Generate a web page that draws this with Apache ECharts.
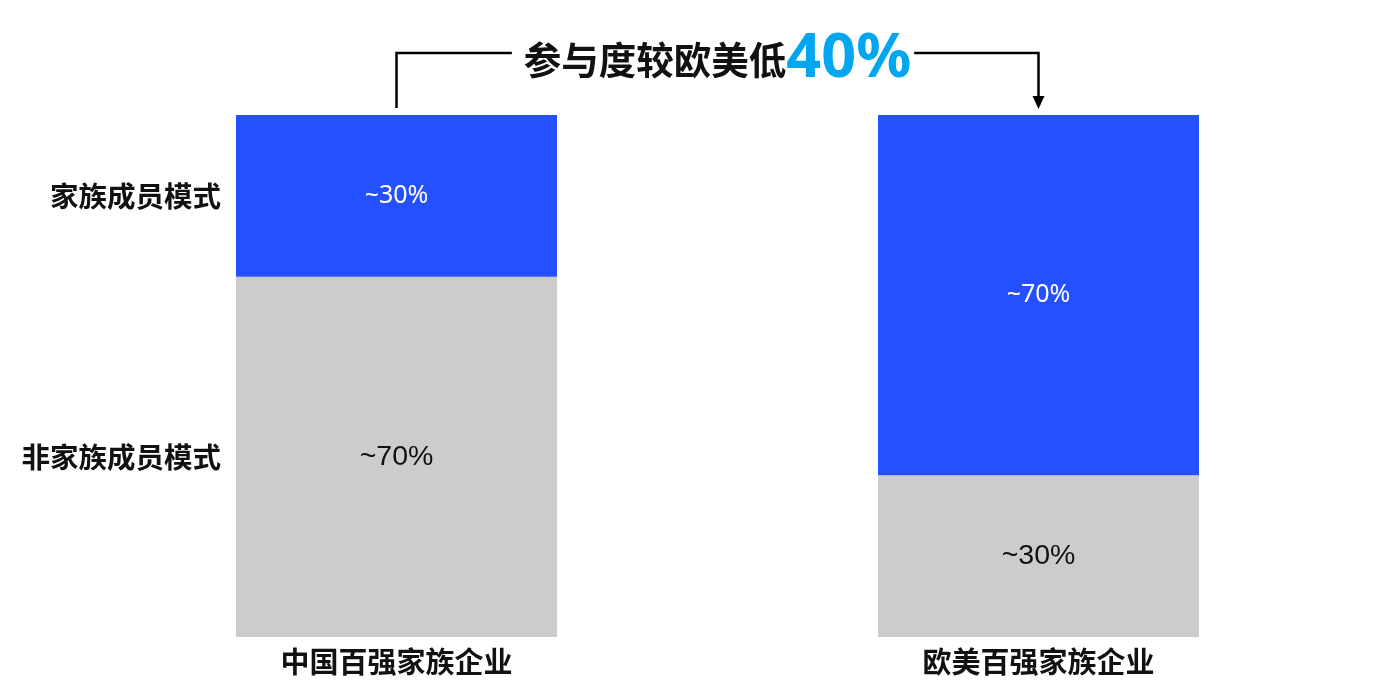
<!DOCTYPE html>
<html>
<head>
<meta charset="utf-8">
<script src="https://cdn.jsdelivr.net/npm/echarts@6/dist/echarts.min.js"></script>
<style>
html,body{margin:0;padding:0;background:#fff;}
#main{width:1373px;height:697px;}
</style>
</head>
<body>
<div id="main"></div>
<script>
// ---- data ----
var categories = ['中国百强家族企业', '欧美百强家族企业'];
var seriesNames = ['非家族成员模式', '家族成员模式'];
var nonFamilyValues = [69, 31];
var familyValues = [31, 69];
var nonFamilyLabels = ['~70%', '~30%'];
var familyLabels = ['~30%', '~70%'];
var annotationText = '参与度较欧美低';
var annotationValue = '40%';

var CJK = '"Noto Sans CJK SC", "Noto Sans", sans-serif';

var chart = echarts.init(document.getElementById('main'));

function makeSeries(name, values, labels, color, labelColor, labelSize, labelFont) {
  return {
    name: name,
    type: 'bar',
    stack: 'total',
    barWidth: '50%',
    data: values.map(function (v, i) {
      return {
        value: v,
        label: {
          show: true,
          position: 'inside',
          formatter: labels[i],
          color: labelColor,
          fontSize: labelSize,
          fontFamily: labelFont
        }
      };
    }),
    itemStyle: { color: color },
    emphasis: { disabled: true },
    silent: true
  };
}

var sNon = makeSeries(seriesNames[0], nonFamilyValues, nonFamilyLabels, '#cccccc', '#111111', 28.5, '"Liberation Sans", Arial, sans-serif');
var sFam = makeSeries(seriesNames[1], familyValues, familyLabels, '#2450ff', '#ffffff', 25, '"Noto Sans", sans-serif');

var option = {
  animation: false,
  grid: { left: 75.5, right: 13.5, top: 115, bottom: 60 },
  xAxis: {
    type: 'category',
    data: categories,
    axisLine: { show: false },
    axisTick: { show: false },
    axisLabel: {
      color: '#111',
      fontSize: 29,
      fontWeight: 'bold',
      fontFamily: CJK,
      margin: 10
    }
  },
  yAxis: {
    type: 'value',
    min: 0,
    max: 100,
    show: false
  },
  series: [sNon, sFam]
};

chart.setOption(option);

function buildGraphics() {
  var p0top = chart.convertToPixel({ gridIndex: 0 }, [0, 100]);
  var p1top = chart.convertToPixel({ gridIndex: 0 }, [1, 100]);
  var leftX = p0top[0];
  var rightX = p1top[0];
  var topY = p0top[1];
  var barHalf = (rightX - leftX) / 4;
  var lineY = 53;
  var endY = topY - 7;
  var midX = (leftX + rightX) / 2;

  var graphics = [];
  var cum = 0;
  var rows = [
    { name: seriesNames[0], v: nonFamilyValues[0] },
    { name: seriesNames[1], v: familyValues[0] }
  ];
  rows.forEach(function (r) {
    var mid = chart.convertToPixel({ gridIndex: 0 }, [0, cum + r.v / 2]);
    cum += r.v;
    graphics.push({
      type: 'text',
      x: leftX - barHalf - 15,
      y: mid[1],
      style: {
        text: r.name,
        align: 'right',
        verticalAlign: 'middle',
        fill: '#111',
        font: 'bold 28.5px ' + CJK
      },
      silent: true
    });
  });

  var fontA = 'bold 37.5px ' + CJK;
  var fontB = 'bold 61px "Noto Sans", sans-serif';
  var ctx = document.createElement('canvas').getContext('2d');
  ctx.font = fontA;
  var w1 = ctx.measureText(annotationText).width;
  ctx.font = fontB;
  var w2 = ctx.measureText(annotationValue).width;
  var total = w1 + w2;
  var startX = midX - total / 2;
  var baseY = 78;
  graphics.push({
    type: 'text',
    x: startX,
    y: baseY,
    style: {
      text: annotationText,
      align: 'left',
      verticalAlign: 'bottom',
      fill: '#111',
      font: fontA
    },
    silent: true
  });
  graphics.push({
    type: 'text',
    x: startX + w1,
    y: baseY + 12,
    style: {
      text: annotationValue,
      align: 'left',
      verticalAlign: 'bottom',
      fill: '#00a6ef',
      font: fontB
    },
    silent: true
  });
  graphics.push({
    type: 'polyline',
    shape: { points: [[leftX, endY], [leftX, lineY], [startX - 12, lineY]] },
    style: { stroke: '#000', lineWidth: 2.5, fill: null },
    silent: true
  });
  graphics.push({
    type: 'polyline',
    shape: { points: [[startX + total + 3, lineY], [rightX, lineY], [rightX, endY - 8]] },
    style: { stroke: '#000', lineWidth: 2.5, fill: null },
    silent: true
  });
  graphics.push({
    type: 'polygon',
    shape: { points: [[rightX - 6, endY - 12], [rightX + 6, endY - 12], [rightX, endY + 1]] },
    style: { fill: '#000' },
    silent: true
  });
  chart.setOption({ graphic: graphics });
}
buildGraphics();
</script>
</body>
</html>
